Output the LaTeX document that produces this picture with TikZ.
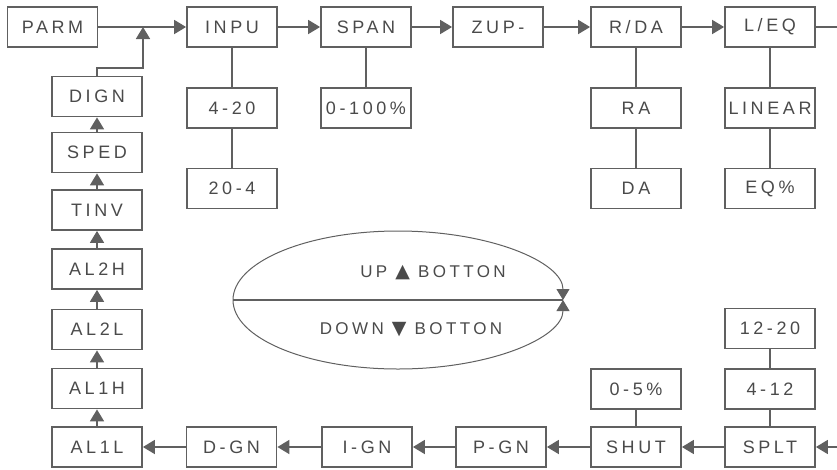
\documentclass[tikz,border=0pt]{standalone}
\usepackage{fontspec}
\setmainfont{Liberation Sans}[LetterSpace=20]
\newfontfamily\symfont{DejaVu Sans}
\usetikzlibrary{arrows.meta}
\definecolor{ln}{HTML}{606060}
\definecolor{tx}{HTML}{4a4a4a}
\begin{document}
\begin{tikzpicture}[x=1pt,y=1pt,
 box/.style={draw=ln, line width=1.8pt, minimum width=90pt, minimum height=40pt, inner sep=0pt, text=tx, font=\fontsize{18}{18}\selectfont},
 lbl/.style={text=tx, inner sep=0pt, font=\fontsize{17}{17}\selectfont},
 conn/.style={draw=ln, line width=1.8pt},
 arr/.style={conn, -{Triangle[width=14pt,length=12pt]}},
 earr/.style={draw=ln, line width=1pt, -{Triangle[width=13pt,length=11pt]}},
]
\useasboundingbox (0,0) rectangle (837,-469);
% top row
\node[box] (PARM) at (52.5,-27) {PARM};
\node[box] (INPU) at (232,-27) {INPU};
\node[box] (SPAN) at (366,-27) {SPAN};
\node[box] (ZUP) at (498,-27) {ZUP-};
\node[box] (RDA) at (636,-27) {R/DA};
\node[box] (LEQ) at (770,-27) {L/EQ};
% sub boxes
\node[box] (s420) at (232,-108) {4-20};
\node[box] (s204) at (232,-188.5) {20-4};
\node[box] (s0100) at (366,-108) {0-100\%};
\node[box] (RA) at (636,-108) {RA};
\node[box] (DA) at (636,-188.5) {DA};
\node[box] (LIN) at (770,-108) {LINEAR};
\node[box] (EQ) at (770,-188.5) {EQ\%};
% left column
\node[box] (DIGN) at (97,-96.5) {DIGN};
\node[box] (SPED) at (97,-152.5) {SPED};
\node[box] (TINV) at (97,-210) {TINV};
\node[box] (AL2H) at (97,-269) {AL2H};
\node[box] (AL2L) at (97,-329.5) {AL2L};
\node[box] (AL1H) at (97,-388.5) {AL1H};
\node[box] (AL1L) at (97,-447) {AL1L};
% bottom row
\node[box] (DGN) at (231.5,-447) {D-GN};
\node[box] (IGN) at (367,-447) {I-GN};
\node[box] (PGN) at (501,-447) {P-GN};
\node[box] (SHUT) at (636,-447) {SHUT};
\node[box] (SPLT) at (770,-447) {SPLT};
\node[box] (s05) at (636,-389) {0-5\%};
\node[box] (s412) at (770,-389) {4-12};
\node[box] (s1220) at (770,-328.5) {12-20};
% coordinates
\coordinate (j) at (143,-27);
\coordinate (outR) at (837,-27);
\coordinate (inR) at (837,-447);
% top connectors
\draw[arr] (PARM.east) -- (INPU.west);
\draw[arr] (INPU.east) -- (SPAN.west);
\draw[arr] (SPAN.east) -- (ZUP.west);
\draw[arr] (ZUP.east) -- (RDA.west);
\draw[arr] (RDA.east) -- (LEQ.west);
\draw[conn] (LEQ.east) -- (outR);
\draw[conn] (INPU) -- (s420) -- (s204);
\draw[conn] (SPAN) -- (s0100);
\draw[conn] (RDA) -- (RA) -- (DA);
\draw[conn] (LEQ) -- (LIN) -- (EQ);
% left column
\draw[arr] (DIGN.north) -- ++(0,8) -| (j);
\draw[arr] (SPED.north) -- (DIGN.south);
\draw[arr] (TINV.north) -- (SPED.south);
\draw[arr] (AL2H.north) -- (TINV.south);
\draw[arr] (AL2L.north) -- (AL2H.south);
\draw[arr] (AL1H.north) -- (AL2L.south);
\draw[arr] (AL1L.north) -- (AL1H.south);
% bottom row
\draw[arr] (inR) -- (SPLT.east);
\draw[arr] (SPLT.west) -- (SHUT.east);
\draw[arr] (SHUT.west) -- (PGN.east);
\draw[arr] (PGN.west) -- (IGN.east);
\draw[arr] (IGN.west) -- (DGN.east);
\draw[arr] (DGN.west) -- (AL1L.east);
\draw[conn] (SHUT) -- (s05);
\draw[conn] (SPLT) -- (s412) -- (s1220);
% ellipse
\coordinate (eL) at (233,-300);
\coordinate (eR) at (563,-300);
\draw[draw=ln, line width=1.3pt] (eL) -- (eR);
\draw[earr] (eL) arc[start angle=180, end angle=0, x radius=165, y radius=69];
\draw[earr] (eL) arc[start angle=180, end angle=360, x radius=165, y radius=69];
\node[lbl] (up) at (433,-273) {UP {\symfont\addfontfeatures{LetterSpace=0}\fontsize{19}{17}\selectfont▲} BOTTON};
\node[lbl] (down) at (411,-330) {DOWN {\symfont\addfontfeatures{LetterSpace=0}\fontsize{19}{17}\selectfont▼} BOTTON};
\end{tikzpicture}
\end{document}
